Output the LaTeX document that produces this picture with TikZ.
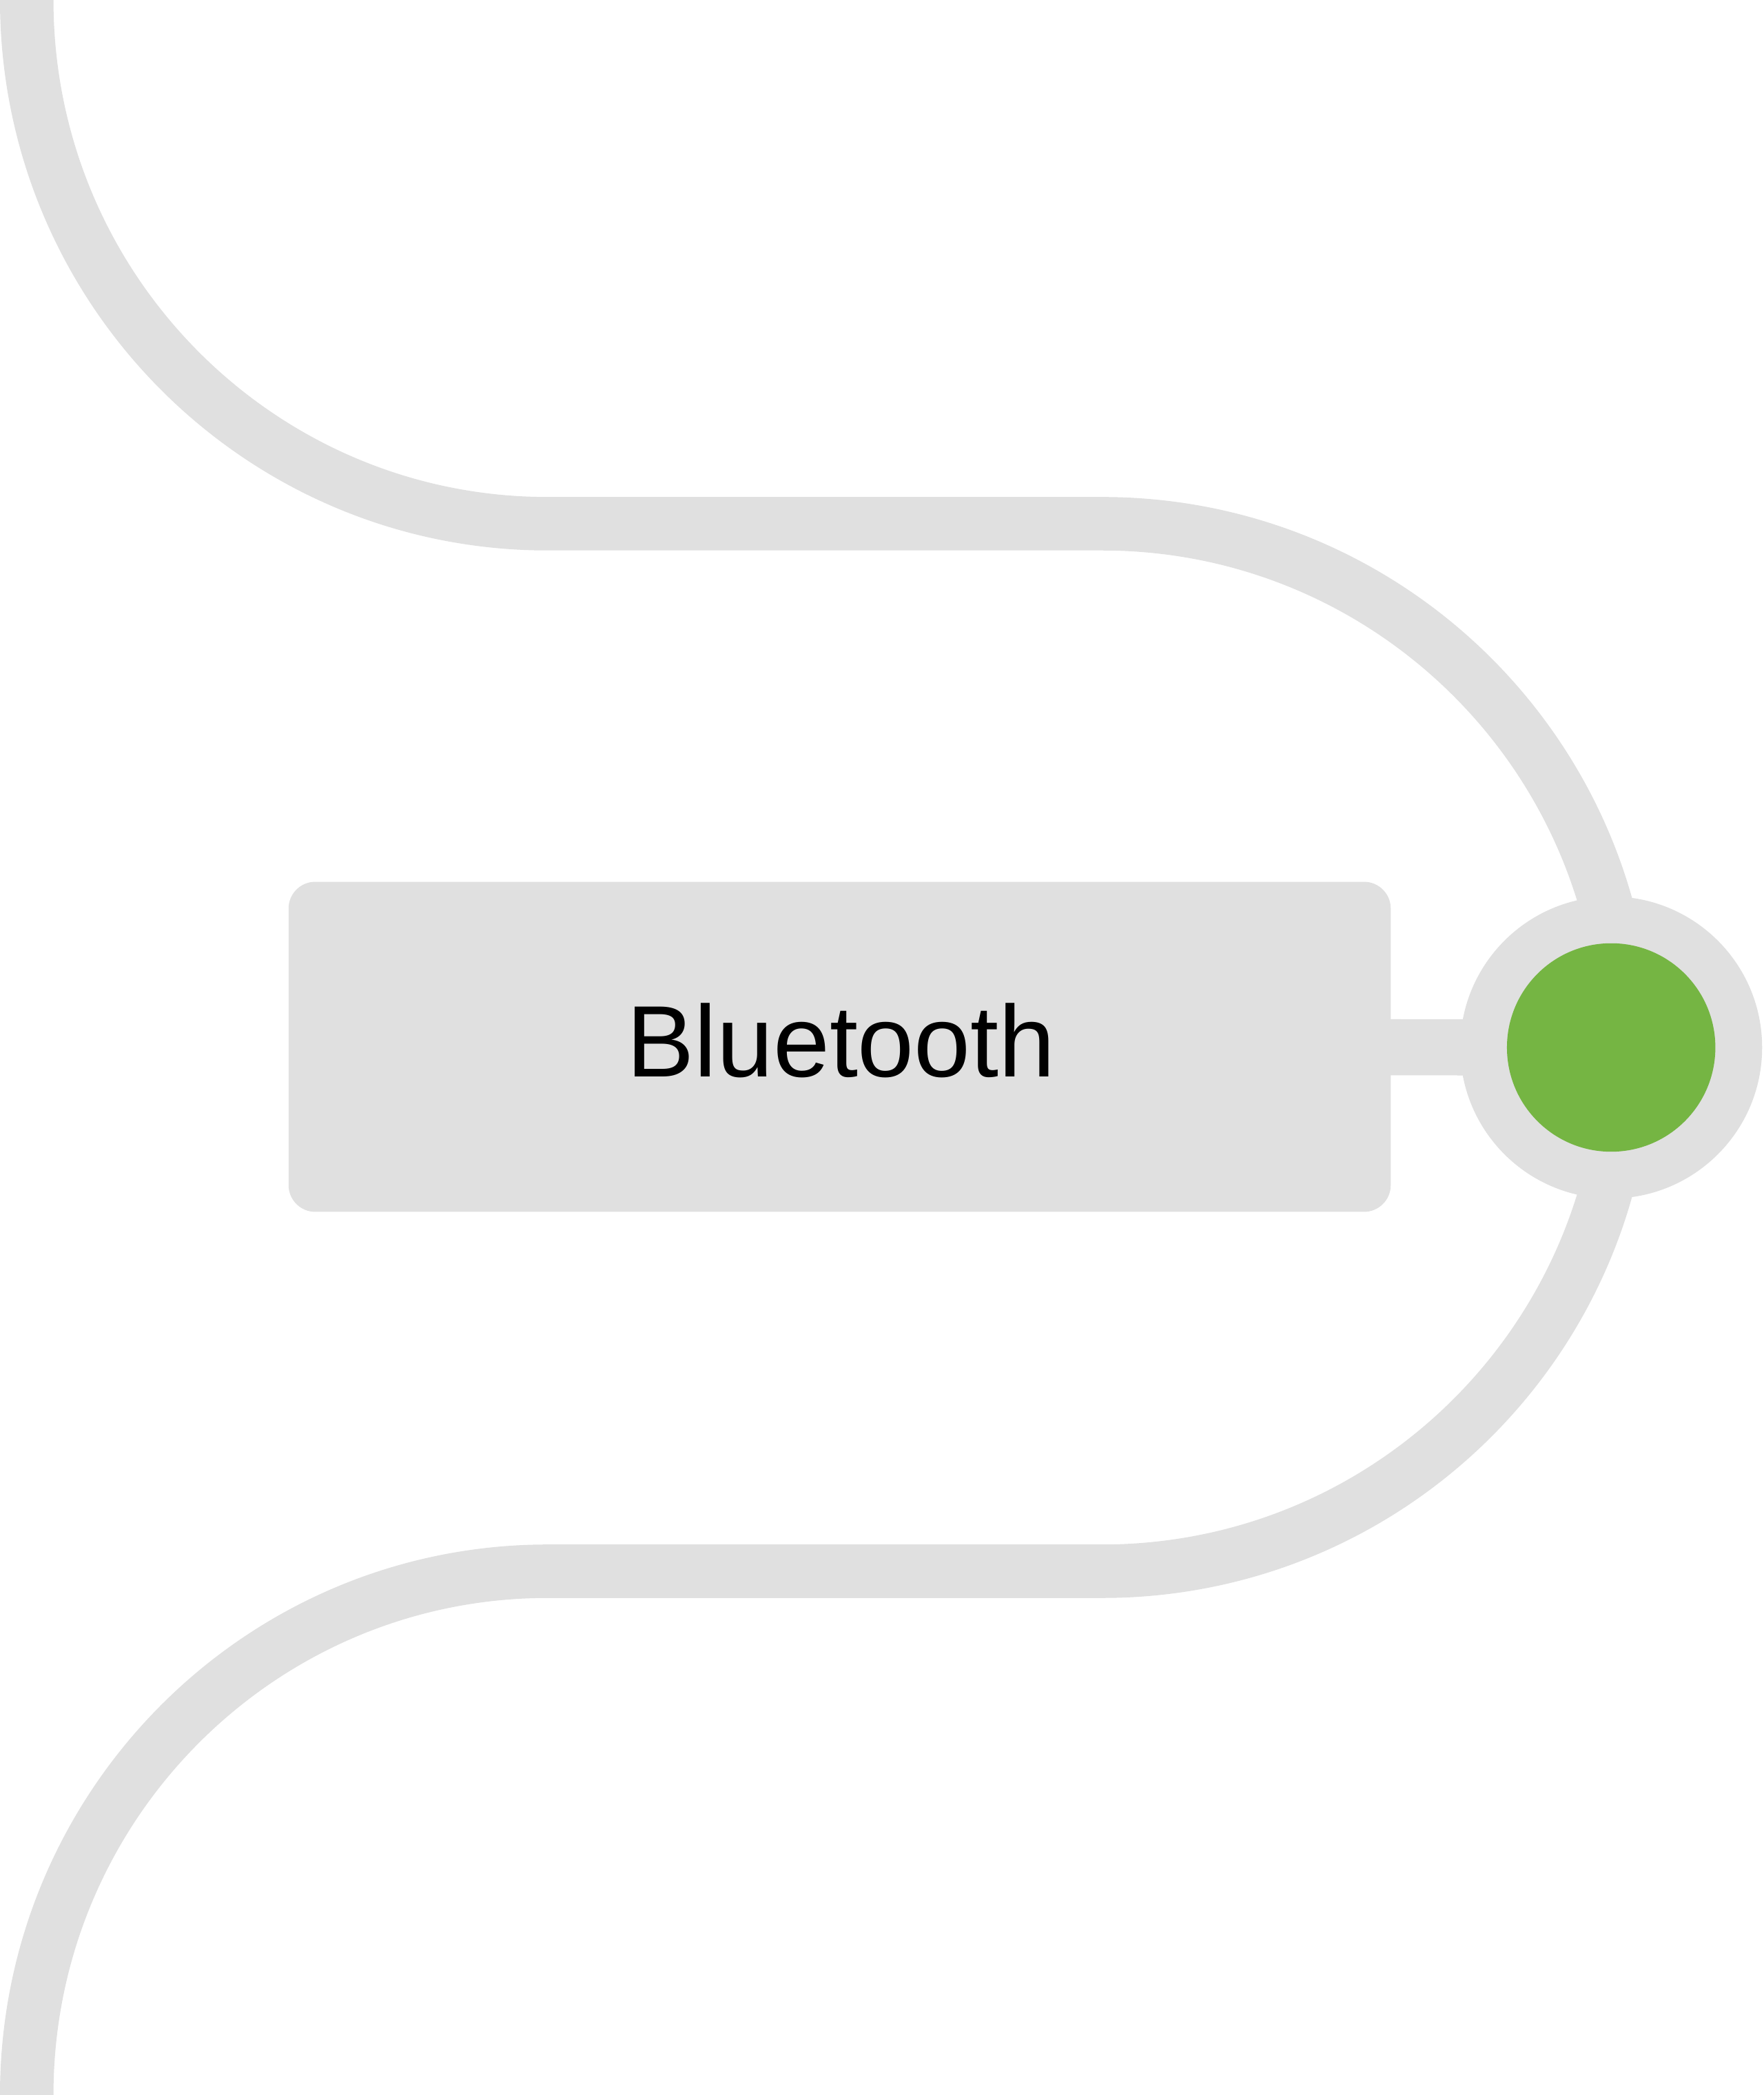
\documentclass[tikz,border=0pt]{standalone}
\usepackage{fontspec}
\setmainfont{Liberation Sans}
\definecolor{bandgray}{HTML}{E0E0E0}
\definecolor{dotgreen}{HTML}{75B543}
\begin{document}
\begin{tikzpicture}[x=0.5pt,y=0.5pt,
  band/.style={draw=bandgray,line width=20pt},
  boxnode/.style={rectangle,rounded corners=10pt,fill=bandgray,minimum width=412.5pt,minimum height=123.5pt,inner sep=0pt},
  ringnode/.style={circle,fill=bandgray,minimum size=113pt,inner sep=0pt},
  dotnode/.style={circle,fill=dotgreen,minimum size=78pt,inner sep=0pt},
  labelnode/.style={font=\fontsize{38pt}{45pt}\selectfont,text=black,inner sep=0pt,anchor=base}
]
\useasboundingbox (0,0) rectangle (1320,1568);
\fill[white] (0,0) rectangle (1320,1568);
% main winding band
\draw[band] (20,1568) arc[start angle=180,end angle=270,x radius=390,y radius=392]
  -- (825,1176) arc[start angle=90,end angle=-90,radius=392]
  -- (410,392) arc[start angle=90,end angle=180,x radius=390,y radius=392];
% coordinates for box and node centres
\coordinate (btc) at (628.5,784.5);
\coordinate (ringc) at (1206,784);
% connector drawn first so the box and the ring cover its ends
\draw[draw=bandgray,line width=21pt] (btc) -- (ringc);
\node[boxnode] (bt) at (btc) {};
\node[ringnode] (ring) at (ringc) {};
\node[dotnode] (dot) at (ring.center) {};
\node[labelnode] (lbl) at (629.5,762) {Bluetooth};
\end{tikzpicture}
\end{document}
